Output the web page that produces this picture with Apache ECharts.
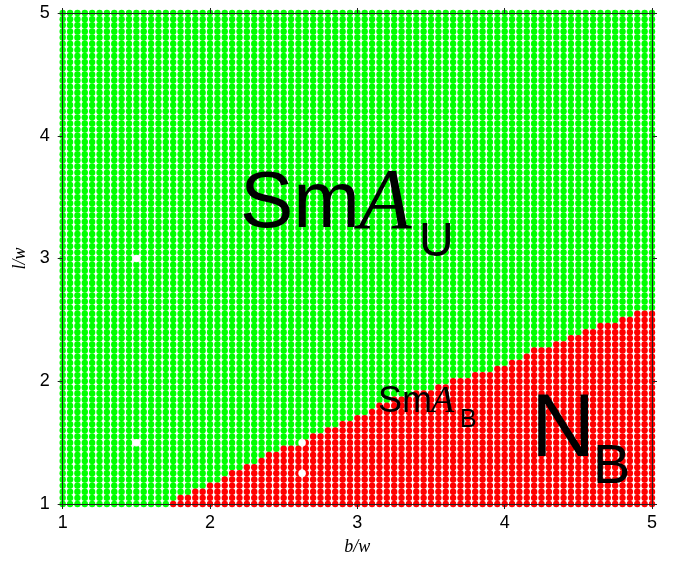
<!DOCTYPE html>
<html>
<head>
<meta charset="utf-8">
<script src="https://cdn.jsdelivr.net/npm/echarts@6/dist/echarts.min.js"></script>
<style>
html,body{margin:0;padding:0;background:#fff;}
#chart{width:675px;height:561px;}
</style>
</head>
<body>
<div id="chart"></div>
<script>
// Grid sampling of the (b/w, l/w) plane
const xStart = 1, xStep = 0.05, nCols = 81;
const yStart = 1, yStep = 0.05, nRows = 81;
// Number of red (N_B) rows counted from the bottom, for each column (b/w = 1 ... 5)
const redRows = [
  0,0,0,0,0,0,0,0,0,0,0,0,0,0,0,
  1,2,2,3,3,4,4,5,6,6,
  7,7,8,9,9,10,10,10,11,12,
  12,13,13,14,14,15,15,16,17,17,
  18,18,18,19,19,19,20,20,21,21,
  21,22,22,22,23,23,24,24,25,26,
  26,26,27,27,28,28,29,29,30,30,
  30,31,31,32,32,32
];
// Missing / empty sample points
const whitePoints = [[1.5, 3], [1.5, 1.5], [2.625, 1.5], [2.625, 1.25]];
const xTicks = [1, 2, 3, 4, 5];
const yTicks = [1, 2, 3, 4, 5];

const greenData = [], redData = [];
for (let i = 0; i < nCols; i++) {
  const x = +(xStart + i * xStep).toFixed(3);
  for (let j = 0; j < nRows; j++) {
    const y = +(yStart + j * yStep).toFixed(3);
    if (j < redRows[i]) redData.push([x, y]); else greenData.push([x, y]);
  }
}

const chart = echarts.init(document.getElementById('chart'), null, {renderer: 'canvas'});
const labelStyle = {fontSize: 18, color: '#000', fontFamily: '"Liberation Sans", Arial, sans-serif'};
const axisCommon = {
  type: 'value', min: xTicks[0], max: xTicks[xTicks.length - 1], interval: 1,
  z: 5,
  axisLine: {show: true, onZero: false, lineStyle: {color: '#222', width: 1}},
  axisTick: {show: true, inside: false, length: 5, lineStyle: {color: '#222', width: 1}},
  splitLine: {show: false}
};
const dotSeries = (name, data, color, size, z) => ({
  type: 'scatter', name: name, data: data, symbol: 'circle', symbolSize: size,
  large: false, progressive: 100000, progressiveThreshold: 100000,
  itemStyle: {color: color, opacity: 1}, silent: true, z: z, zlevel: 0
});
const txt = (text, x, y, font) => ({
  type: 'text', z: 100, zlevel: 3, silent: true,
  style: {text: text, x: x, y: y, font: font, fill: '#000', textAlign: 'left', verticalAlign: 'middle', textVerticalAlign: 'middle'}
});
const option = {
  animation: false,
  backgroundColor: '#fff',
  grid: {left: 62.7, right: 23, top: 13, bottom: 57, containLabel: false},
  xAxis: [
    Object.assign({}, axisCommon, {
      position: 'bottom',
      name: 'b/w', nameLocation: 'middle', nameGap: 34,
      nameTextStyle: {fontSize: 18, fontStyle: 'italic', fontFamily: '"Liberation Serif", serif', color: '#000'},
      axisLabel: Object.assign({margin: 10}, labelStyle)
    }),
    Object.assign({}, axisCommon, {position: 'top', axisLabel: {show: false}})
  ],
  yAxis: [
    Object.assign({}, axisCommon, {
      min: yTicks[0], max: yTicks[yTicks.length - 1],
      position: 'left',
      name: 'l/w', nameLocation: 'middle', nameGap: 31,
      nameTextStyle: {fontSize: 18, fontStyle: 'italic', fontFamily: '"Liberation Serif", serif', color: '#000'},
      axisLabel: Object.assign({margin: 13}, labelStyle)
    }),
    Object.assign({}, axisCommon, {min: yTicks[0], max: yTicks[yTicks.length - 1], position: 'right', axisLabel: {show: false}})
  ],
  series: [
    dotSeries('SmA_U', greenData, '#00ff00', 6.4, 1),
    dotSeries('N_B', redData, '#ff0000', 6.4, 1),
    dotSeries('empty', whitePoints, '#ffffff', 7.5, 2)
  ],
  graphic: {
    elements: [
      txt('Sm', 240, 205, '80px "Liberation Sans", Arial, sans-serif'),
      txt('A', 359, 205, 'italic 86px "Liberation Serif", serif'),
      txt('U', 419, 243, '48px "Liberation Sans", Arial, sans-serif'),
      txt('Sm', 378, 402, '36px "Liberation Sans", Arial, sans-serif'),
      txt('A', 431, 402, 'italic 38px "Liberation Serif", serif'),
      txt('B', 460, 420, '25px "Liberation Sans", Arial, sans-serif'),
      txt('N', 531, 431, '89px "Liberation Sans", Arial, sans-serif'),
      txt('B', 593, 468, '56px "Liberation Sans", Arial, sans-serif')
    ]
  }
};
chart.setOption(option);
</script>
</body>
</html>
